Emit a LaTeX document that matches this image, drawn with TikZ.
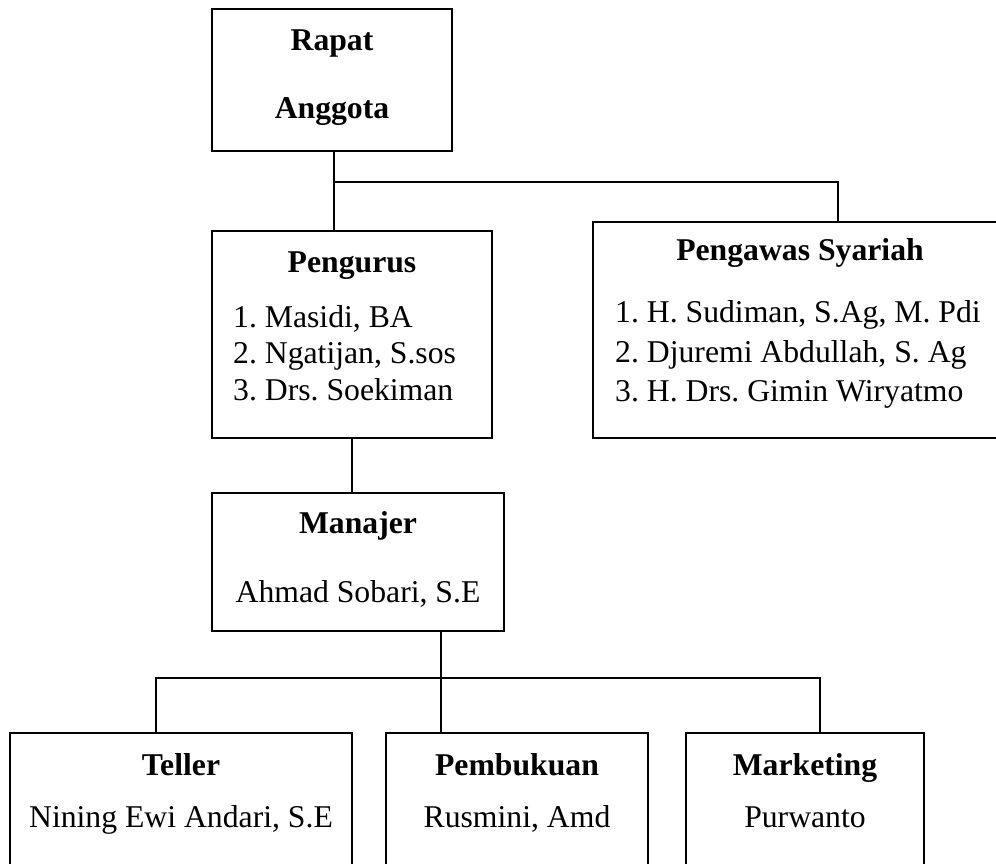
\documentclass[tikz,border=0pt]{standalone}
\usepackage{fontspec}
\setmainfont{Liberation Serif}
\frenchspacing
\begin{document}
\begin{tikzpicture}[x=1pt,y=-1pt,
  box/.style={draw, line width=1.8pt, inner sep=0pt, outer sep=0pt, rectangle},
  txt/.style={inner sep=0pt, font=\fontsize{31.7}{38}\selectfont\frenchspacing},
  ttl/.style={inner sep=0pt, font=\fontsize{31.7}{38}\selectfont\bfseries\frenchspacing},
  conn/.style={line width=1.8pt}]
\useasboundingbox (0,0) rectangle (996,863);
\clip (0,0) rectangle (996,863);

% boxes
\node[box, minimum width=240pt, minimum height=142pt] (rapat) at (332,80) {};
\node[box, minimum width=280pt, minimum height=207pt] (peng) at (352,334.5) {};
\node[box, minimum width=417pt, minimum height=216pt] (psy) at (801.5,330) {};
\node[box, minimum width=292pt, minimum height=138pt] (man) at (358,562) {};
\node[box, minimum width=342pt, minimum height=167pt] (tel) at (181,816.5) {};
\node[box, minimum width=262pt, minimum height=167pt] (pbk) at (517,816.5) {};
\node[box, minimum width=238pt, minimum height=167pt] (mkt) at (805,816.5) {};

% texts
\node[ttl, anchor=base] (t1) at (332,50) {Rapat};
\node[ttl, anchor=base] (t2) at (332,118) {Anggota};

\node[ttl, anchor=base] (t3) at (352,272) {Pengurus};
\node[txt, anchor=base west] (t4) at (233,327) {1. Masidi, BA};
\node[txt, anchor=base west] (t5) at (233,363.5) {2. Ngatijan, S.sos};
\node[txt, anchor=base west] (t6) at (233,400) {3. Drs. Soekiman};

\node[ttl, anchor=base] (t7) at (800,260) {Pengawas Syariah};
\node[txt, anchor=base west] (t8) at (615,322) {1. H. Sudiman, S.Ag, M. Pdi};
\node[txt, anchor=base west] (t9) at (615,362) {2. Djuremi Abdullah, S. Ag};
\node[txt, anchor=base west] (t10) at (615,401) {3. H. Drs. Gimin Wiryatmo};

\node[ttl, anchor=base] (t11) at (358,533) {Manajer};
\node[txt, anchor=base] (t12) at (358,602) {Ahmad Sobari, S.E};

\node[ttl, anchor=base] (t13) at (181,775) {Teller};
\node[txt, anchor=base] (t14) at (181,827) {Nining Ewi Andari, S.E};
\node[ttl, anchor=base] (t15) at (517,775) {Pembukuan};
\node[txt, anchor=base] (t16) at (517,827) {Rusmini, Amd};
\node[ttl, anchor=base] (t17) at (805,775) {Marketing};
\node[txt, anchor=base] (t18) at (805,827) {Purwanto};

% connectors
\coordinate (j1) at (334,182);
\draw[conn] (rapat.south -| j1) -- (j1) -| (838,0 |- psy.north);
\draw[conn] (j1) -- (j1 |- peng.north);
\draw[conn] (peng.south) -- (peng.south |- man.north);
\coordinate (j2) at (441,678);
\draw[conn] (man.south -| j2) -- (j2);
\draw[conn] (j2) -| (156,0 |- tel.north);
\draw[conn] (j2) -| (820,0 |- mkt.north);
\draw[conn] (j2) -- (j2 |- pbk.north);
\end{tikzpicture}
\end{document}
